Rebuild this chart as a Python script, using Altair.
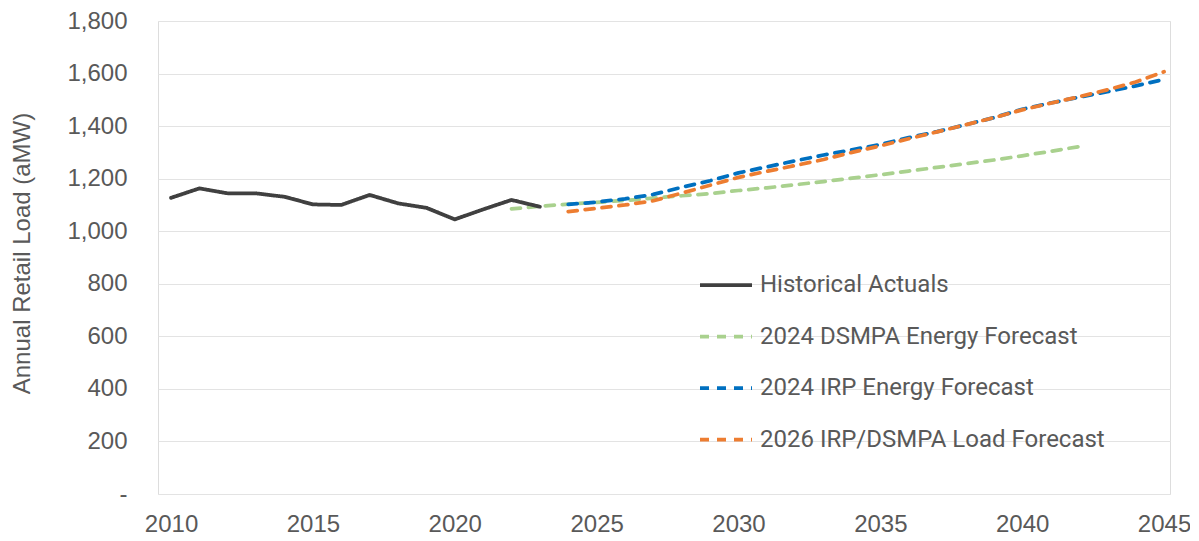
import altair as alt
import pandas as pd

# ---- data ----
hist_years = list(range(2010, 2024))
hist_values = [1127, 1163, 1144, 1144, 1131, 1102, 1100, 1138, 1106, 1089, 1045, 1083, 1119, 1093]

dsmpa_years = list(range(2022, 2043))
dsmpa_values = [1085, 1095, 1103, 1110, 1117, 1126, 1135, 1143, 1155, 1165, 1177, 1189,
                1202, 1215, 1229, 1243, 1257, 1271, 1287, 1304, 1322]

irp_years = list(range(2024, 2046))
irp_values = [1102, 1111, 1123, 1140, 1167, 1192, 1222, 1245, 1268, 1290, 1310, 1330,
              1356, 1379, 1405, 1432, 1464, 1488, 1510, 1531, 1553, 1578]

load_years = list(range(2024, 2046))
load_values = [1075, 1087, 1100, 1116, 1145, 1175, 1205, 1228, 1250, 1273, 1300, 1325,
               1352, 1378, 1405, 1432, 1462, 1487, 1512, 1538, 1568, 1607]

series_names = ["Historical Actuals", "2024 DSMPA Energy Forecast",
                "2024 IRP Energy Forecast", "2026 IRP/DSMPA Load Forecast"]
series_colors = ["#404040", "#a9d18e", "#0070c0", "#ed7d31"]
series_dashes = [[1, 0], [9, 8], [9, 8], [9, 8]]

y_ticks = [0, 200, 400, 600, 800, 1000, 1200, 1400, 1600, 1800]
x_ticks = [2010, 2015, 2020, 2025, 2030, 2035, 2040, 2045]

frames = []
for name, yrs, vals in [(series_names[0], hist_years, hist_values),
                        (series_names[1], dsmpa_years, dsmpa_values),
                        (series_names[2], irp_years, irp_values),
                        (series_names[3], load_years, load_values)]:
    frames.append(pd.DataFrame({"Year": yrs, "Load": vals, "Series": name}))
df = pd.concat(frames, ignore_index=True)

TEXT = "#595959"

x_enc = alt.X("Year:Q",
              scale=alt.Scale(domain=[2009.54, 2045.21], nice=False, zero=False),
              axis=alt.Axis(values=x_ticks, format="d", grid=False, domain=False, ticks=False,
                            labelFontSize=24, labelFont="Liberation Sans", labelColor=TEXT,
                            labelPadding=18, title=None))
y_enc = alt.Y("Load:Q",
              scale=alt.Scale(domain=[0, 1800], nice=False),
              axis=alt.Axis(values=y_ticks, grid=True, gridColor="#e3e3e3", gridWidth=1,
                            domain=False, ticks=False,
                            labelExpr="datum.value == 0 ? '-' : format(datum.value, ',')",
                            labelFontSize=24, labelFont="Liberation Sans", labelColor=TEXT,
                            labelPadding=31,
                            title="Annual Retail Load (aMW)", titleFontSize=24,
                            titleFont="Liberation Sans", titleColor=TEXT, titleFontWeight="normal",
                            titleX=-136, titleY=232, titleAngle=-90,
                            titleAlign="center", titleBaseline="middle"))
color_enc = alt.Color("Series:N",
                      scale=alt.Scale(domain=series_names, range=series_colors),
                      legend=alt.Legend(title=None, orient="none", legendX=540, legendY=236,
                                        symbolType="stroke", symbolSize=2704,
                                        symbolStrokeWidth=3.75, labelFontSize=24,
                                        labelFont="Roboto", labelColor=TEXT,
                                        labelOffset=6, rowPadding=11.5, labelLimit=600))
dash_enc = alt.StrokeDash("Series:N",
                          scale=alt.Scale(domain=series_names, range=series_dashes),
                          legend=None)

layers = []
for name in [series_names[1], series_names[2], series_names[3], series_names[0]]:
    layers.append(
        alt.Chart(df[df["Series"] == name])
        .mark_line(strokeWidth=3.75, strokeCap="round", strokeJoin="round")
        .encode(x=x_enc, y=y_enc, color=color_enc, strokeDash=dash_enc)
    )

chart = (
    alt.layer(*layers)
    .properties(width=1012, height=473,
                autosize=alt.AutoSizeParams(type="none"),
                padding={"left": 150, "top": 13, "right": 20, "bottom": 46})
    .configure_view(stroke=None)
    .configure(background="white")
)

chart.save("out.html", embed_options={"renderer": "svg", "actions": False})
